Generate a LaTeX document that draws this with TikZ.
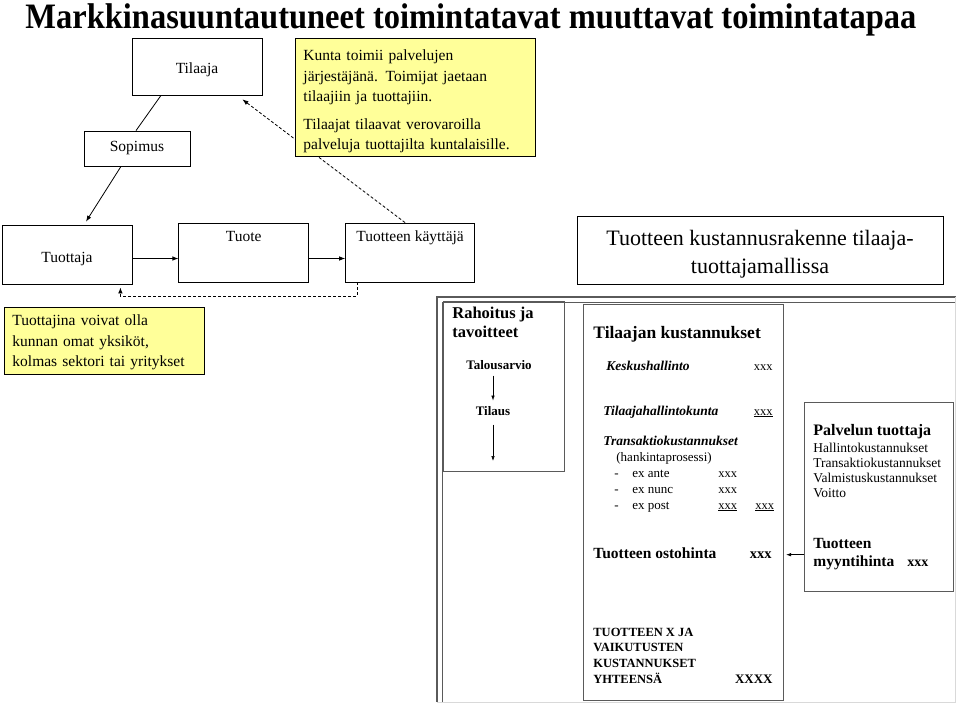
\documentclass[tikz,border=0pt]{standalone}
\usepackage{fontspec}
\setmainfont{Liberation Serif}
\usepackage{tikz}
\usetikzlibrary{arrows.meta,positioning}

\definecolor{notefill}{HTML}{FFFF99}
\definecolor{kuvareuna}{HTML}{5A5A5A}

\begin{document}
\begin{tikzpicture}[x=1pt, y=-1pt, every node/.style={
    rectangle,
    inner sep=0pt,
    font=\fontsize{15.5}{20.5}\selectfont,
  },
  box/.style={draw, line width=0.8pt, minimum width=130pt, minimum height=59pt},
  toptext/.style={text height=11pt, text depth=34pt, inner ysep=7pt},
  note/.style={draw, line width=0.9pt, fill=notefill, align=left, inner xsep=8pt, anchor=north west},
  kbox/.style={draw=kuvareuna, line width=1.1pt, anchor=north west},
  txt/.style={anchor=base west},
  >={Latex[length=6pt,width=4.5pt]}, line width=0.8pt]

  \useasboundingbox (0,0) rectangle (960,704);

  \node[txt, font=\fontsize{32.5}{36}\selectfont\bfseries] (otsikko) at (25,28)
    {\scalebox{1}[1.1]{Markkinasuuntautuneet toimintatavat muuttavat toimintatapaa}};

  % tilaaja - tuottaja malli
  \node[box, minimum height=57pt, text height=16pt, text depth=2pt] (tilaaja) at (197,66.5) {Tilaaja};
  \node[box, minimum width=106pt, minimum height=35pt] (sopimus) at (137,148.5) {Sopimus};
  \node[box, text height=30pt, text depth=15pt, inner ysep=7pt] (tuottaja) at (67,254.5) {Tuottaja};
  \node[box, toptext, right=46pt of tuottaja, yshift=2pt] (tuote) {Tuote};
  \node[box, toptext, right=36pt of tuote, minimum width=129pt] (kayttaja) {Tuotteen käyttäjä};

  \draw ([xshift=-36pt]tilaaja.south) -- ([xshift=-1pt]sopimus.north);
  \draw[->] ([xshift=-16pt]sopimus.south) -- ([xshift=19pt,yshift=3pt]tuottaja.north);
  \draw[->] ([yshift=-4pt]tuottaja.east) -- ([yshift=-6pt]tuote.west);
  \draw[->] ([yshift=-6pt]tuote.east) -- ([yshift=-6pt]kayttaja.west);
  \draw[dash pattern=on 3pt off 2pt, ->] ([xshift=12pt]kayttaja.south west) -- ++(0,14)
    -| ([xshift=-12pt,yshift=-3pt]tuottaja.south east);
  \draw[dash pattern=on 3pt off 2pt, ->] ([xshift=-5pt]kayttaja.north)
    -- ([xshift=-20pt,yshift=-4pt]tilaaja.south east);

  \node[note, text width=224pt, minimum height=118pt] (huom1) at (295,38)
    {\rule{0pt}{19pt}Kunta toimii palvelujen\\järjestäjänä. Toimijat jaetaan\\tilaajiin ja tuottajiin.\\[7pt]
     Tilaajat tilaavat verovaroilla\\palveluja tuottajilta kuntalaisille.};
  \node[note, text width=184pt, minimum height=67pt] (huom2) at (4,307)
    {\rule{0pt}{14pt}Tuottajina voivat olla\\kunnan omat yksiköt,\\kolmas sektori tai yritykset};

  \node[draw, line width=0.9pt, minimum width=366pt, minimum height=68pt, align=center,
    font=\fontsize{22}{28}\selectfont] (otsikko2) at (760,250)
    {\rule{0pt}{24pt}Tuotteen kustannusrakenne tilaaja-\\tuottajamallissa};

  % kustannusrakenne (kuva)
  \draw[kuvareuna, line width=1.2pt] (956,297) -- (437,297) -- (437,702);
  \draw[kuvareuna, line width=0.6pt] (955,302) -- (442,302) -- (442,702);
  \draw[black!15, line width=1pt] (955,297) -- (955,702) -- (437,702);

  \node[kbox, minimum width=121pt, minimum height=170pt] (rahoitus) at (443,301) {};
  \node[kbox, minimum width=200pt, minimum height=396pt] (tkust) at (583,304) {};
  \node[kbox, minimum width=149pt, minimum height=189pt] (ptuott) at (804,402) {};

  \node[txt, font=\fontsize{16.5}{19}\selectfont\bfseries] (rah1) at (452,318) {Rahoitus ja};
  \node[txt, font=\fontsize{16.5}{19}\selectfont\bfseries] (rah2) at (452,337) {tavoitteet};
  \node[anchor=base, font=\fontsize{13}{15}\selectfont\bfseries] (talous) at (499,369) {Talousarvio};
  \node[anchor=base, font=\fontsize{13}{15}\selectfont\bfseries] (tilaus) at (493,415) {Tilaus};
  \coordinate (rahoitus-alas) at (493,461);
  \draw[-{Latex[length=5pt,width=3.5pt]}, line width=0.6pt, shorten <=6pt, shorten >=5pt]
    (talous.south -| tilaus.north) -- (tilaus.north);
  \draw[-{Latex[length=5pt,width=3.5pt]}, line width=0.6pt, shorten <=9pt] (tilaus.south) -- (rahoitus-alas);

  \node[txt, font=\fontsize{17.5}{20}\selectfont\bfseries] (tk-otsikko) at (593,338) {Tilaajan kustannukset};
  \node[txt, font=\fontsize{13.5}{16}\selectfont\bfseries\itshape] (kesk) at (606,370) {Keskushallinto};
  \node[anchor=base east, font=\fontsize{12.5}{15}\selectfont] (kesk-x) at (773,370) {xxx};
  \node[txt, font=\fontsize{13.5}{16}\selectfont\bfseries\itshape] (thk) at (603,415) {Tilaajahallintokunta};
  \node[anchor=base east, font=\fontsize{12.5}{15}\selectfont] (thk-x) at (773,415) {\underline{xxx}};
  \node[txt, font=\fontsize{13.5}{16}\selectfont\bfseries\itshape] (trans) at (603,445) {Transaktiokustannukset};
  \node[txt, font=\fontsize{13}{15}\selectfont] (hank) at (616,461) {(hankintaprosessi)};
  \foreach \vaihe/\y/\summa [count=\i] in {ex ante/477/xxx, ex nunc/493/xxx, ex post/509/\underline{xxx}} {
    \node[txt, font=\fontsize{13}{15}\selectfont] (viiva\i) at (614,\y) {-};
    \node[txt, font=\fontsize{13}{15}\selectfont] (vaihe\i) at (632,\y) {\vaihe};
    \node[txt, font=\fontsize{12.5}{15}\selectfont] (vx\i) at (718,\y) {\summa};
  }
  \node[txt, font=\fontsize{12.5}{15}\selectfont] (vx4) at (755,509) {\underline{xxx}};

  \node[txt, font=\fontsize{15.5}{18}\selectfont\bfseries] (osto) at (593,558) {Tuotteen ostohinta};
  \node[anchor=base east, font=\fontsize{14.5}{16}\selectfont\bfseries] (osto-x) at (772,558) {xxx};

  \foreach \rivi/\y [count=\i] in {TUOTTEEN X JA/636, VAIKUTUSTEN/651, KUSTANNUKSET/667, YHTEENSÄ/683}
    \node[txt, font=\fontsize{12.5}{15}\selectfont\bfseries] (yht\i) at (593,\y) {\rivi};
  \node[anchor=base east, font=\fontsize{13}{15}\selectfont\bfseries] (yht-x) at (773,683) {XXXX};

  \node[txt, font=\fontsize{16}{18}\selectfont\bfseries] (pt-otsikko) at (813,435) {Palvelun tuottaja};
  \foreach \rivi/\y [count=\i] in {Hallintokustannukset/452, Transaktiokustannukset/467,
      Valmistuskustannukset/482, Voitto/497}
    \node[txt, font=\fontsize{13.5}{15}\selectfont] (pt\i) at (813,\y) {\rivi};
  \node[txt, font=\fontsize{15.5}{18}\selectfont\bfseries] (myynti1) at (813,548) {Tuotteen};
  \node[txt, font=\fontsize{15.5}{18}\selectfont\bfseries] (myynti2) at (813,566) {myyntihinta};
  \node[txt, font=\fontsize{14}{16}\selectfont\bfseries] (myynti-x) at (907,566) {xxx};

  \draw[-{Latex[length=5pt,width=3.5pt]}, line width=0.6pt, shorten >=2pt]
    (ptuott.west |- osto-x.center) -- (tkust.east |- osto-x.center);

\end{tikzpicture}
\end{document}
